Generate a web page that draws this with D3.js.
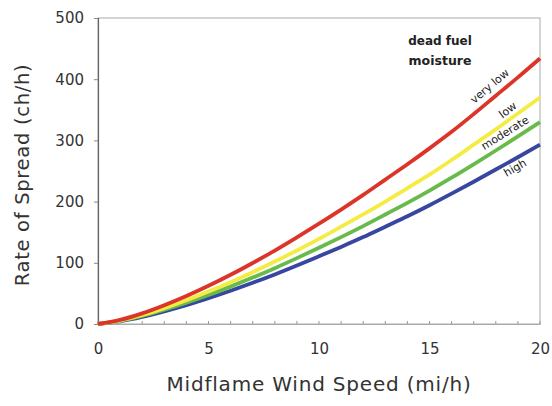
<!DOCTYPE html>
<html><head><meta charset="utf-8">
<script src="https://cdn.jsdelivr.net/npm/d3@7"></script>
<style>body{margin:0;background:#fff}svg{display:block}</style>
</head><body>
<script>
const windSpeed = [0,1,2,3,4,5,6,7,8,9,10,11,12,13,14,15,16,17,18,19,20];
const veryLow  = [0,6.6,17.3,30.6,45.7,62.4,80.4,99.7,120,141.6,164,187,211,236,261,287,314,343,373,403,434];
const low      = [0,5.6,14.7,26,38.8,53,68.3,84.7,102,120,139,159,179,200,222,244,268,293,318,344,370];
const moderate = [0,5,13.1,23.3,34.7,47.4,61.1,75.8,91.2,107.6,124.6,142,160,179,198,218,239,261,283.5,306.5,330];
const high     = [0,4.5,11.7,20.7,30.8,42.1,54.3,67.3,81,95.6,110.7,126,142,159,176,194,213,232.5,252.5,272.5,293];
const seriesNames = ["very low","low","moderate","high"];
const xTicks = [0,5,10,15,20];
const yTicks = [0,100,200,300,400,500];

const FONT="DejaVu Sans, Verdana, sans-serif";
const W=552,H=406;
const m={l:98,r:12,t:18,b:82};
const svg=d3.select("body").append("svg").attr("width",W).attr("height",H);
const x=d3.scaleLinear().domain([0,20]).range([m.l,W-m.r]);
const y=d3.scaleLinear().domain([0,500]).range([H-m.b,m.t]);

// frame
svg.append("rect").attr("x",x(0)).attr("y",y(500)).attr("width",x(20)-x(0)).attr("height",y(0)-y(500))
  .attr("fill","none").attr("stroke","#aaa").attr("stroke-width",1);

// y axis
const ya=svg.append("g").attr("transform",`translate(${x(0)},0)`)
  .call(d3.axisLeft(y).tickValues(yTicks).tickSize(4).tickPadding(10));
ya.select(".domain").attr("stroke","#666").attr("stroke-width",1.2);
ya.selectAll(".tick line").attr("stroke","#888");
ya.selectAll("text").attr("font-family",FONT).attr("font-size",15).attr("fill","#333");

// x axis
const xa=svg.append("g").attr("transform",`translate(0,${y(0)})`)
  .call(d3.axisBottom(x).tickValues(xTicks).tickSize(0).tickPadding(19));
xa.select(".domain").attr("stroke","#aaa");
xa.selectAll("text").attr("font-family",FONT).attr("font-size",15).attr("fill","#333");
// minor inward ticks
svg.append("g").selectAll("line").data(windSpeed).join("line")
  .attr("x1",d=>x(d)).attr("x2",d=>x(d)).attr("y1",y(0)).attr("y2",y(0)-3)
  .attr("stroke","#999");

// titles
svg.append("text").attr("x",(x(0)+x(20))/2).attr("y",391).attr("text-anchor","middle")
  .attr("font-family",FONT).attr("font-size",20).attr("letter-spacing",0.8).attr("fill","#333")
  .text("Midflame Wind Speed (mi/h)");
svg.append("text").attr("transform",`translate(29,175) rotate(-90)`).attr("text-anchor","middle")
  .attr("font-family",FONT).attr("font-size",19.5).attr("letter-spacing",0.7).attr("fill","#333")
  .text("Rate of Spread (ch/h)");

// lines
const data=[veryLow,low,moderate,high];
const colors=["#dc3428","#f4ec42","#68bb4a","#3747a0"];
const line=d3.line().x((d,i)=>x(windSpeed[i])).y(d=>y(d)).curve(d3.curveMonotoneX);
const order=[3,2,1,0];
svg.append("g").selectAll("path").data(order).join("path")
  .attr("d",i=>line(data[i])).attr("fill","none").attr("stroke",i=>colors[i]).attr("stroke-width",3.8);

// legend title
svg.append("text").attr("x",440).attr("y",45).attr("text-anchor","middle")
  .attr("font-family",FONT).attr("font-size",12).attr("font-weight","bold").attr("fill","#222")
  .text("dead fuel");
svg.append("text").attr("x",440).attr("y",65).attr("text-anchor","middle")
  .attr("font-family",FONT).attr("font-size",12.5).attr("font-weight","bold").attr("fill","#222")
  .text("moisture");

// series labels along curves
const labelPos=[[492,89,-40],[510,113,-37],[507,136,-32],[517,171,-30]];
seriesNames.forEach((n,i)=>{
  svg.append("text").attr("transform",`translate(${labelPos[i][0]},${labelPos[i][1]}) rotate(${labelPos[i][2]})`)
    .attr("text-anchor","middle").attr("font-family",FONT)
    .attr("font-size",11).attr("fill","#222").text(n);
});
</script>
</body></html>
